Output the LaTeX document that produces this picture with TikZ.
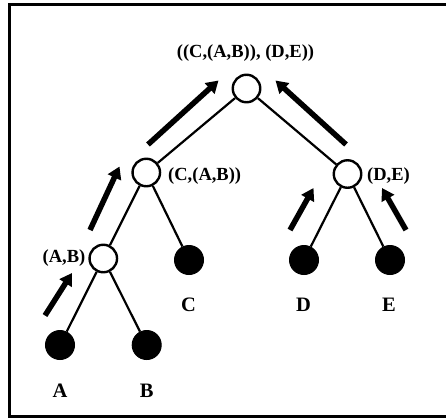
\documentclass[tikz,border=0pt]{standalone}
\usepackage{fontspec}
\setmainfont{Liberation Serif}
\usetikzlibrary{arrows.meta}
\begin{document}
\begin{tikzpicture}[x=1pt,y=-1pt,
  opennode/.style={circle,draw,fill=white,line width=2.4pt,minimum size=27.5pt,inner sep=0pt},
  leafnode/.style={circle,draw,fill=black,line width=1pt,minimum size=29pt,inner sep=0pt},
  edge/.style={line width=2.2pt},
  flow/.style={line width=5.5pt,-{Triangle[length=12pt,width=14pt]}},
  pairlabel/.style={inner sep=0pt,font=\fontsize{18.5}{20}\selectfont\bfseries},
  leaflabel/.style={inner sep=0pt,font=\fontsize{20.5}{22}\selectfont\bfseries}]
  \useasboundingbox (0,0) rectangle (446,418);
  \clip (0,0) rectangle (446,418);
  % frame (its right side lies past the page edge)
  \draw[line width=3pt] (460,4.5) -- (9,4.5) -- (9,416.5) -- (460,416.5);

  % tree nodes
  \node[opennode] (root) at (246.5,88.5) {};
  \node[opennode] (cab) at (146.3,172.5) {};
  \node[opennode] (de) at (347.5,174) {};
  \node[opennode] (ab) at (103.3,258.5) {};
  \node[leafnode] (c) at (189,260) {};
  \node[leafnode] (d) at (304,260) {};
  \node[leafnode] (e) at (390,260) {};
  \node[leafnode] (a) at (60,345) {};
  \node[leafnode] (b) at (146.7,345) {};

  % tree edges
  \draw[edge] (root) -- (cab);
  \draw[edge] (root) -- (de);
  \draw[edge] (cab) -- (ab);
  \draw[edge] (cab) -- (c);
  \draw[edge] (de) -- (d);
  \draw[edge] (de) -- (e);
  \draw[edge] (ab) -- (a);
  \draw[edge] (ab) -- (b);

  % labels
  \node[pairlabel] (lroot) at (245.5,53.5) {((C,(A,B)), (D,E))};
  \node[pairlabel,anchor=west] (lcab) at (168,176.5) {(C,(A,B))};
  \node[pairlabel,anchor=west] (lde) at (367,176.5) {(D,E)};
  \node[pairlabel,anchor=east] (lab) at (85.5,258.5) {(A,B)};
  \node[leaflabel] (lc) at (188.5,305) {C};
  \node[leaflabel] (ld) at (303.5,304.5) {D};
  \node[leaflabel] (le) at (389,304.5) {E};
  \node[leaflabel] (la) at (60,390.5) {A};
  \node[leaflabel] (lb) at (146.7,390.5) {B};

  % flow arrows running up the tree
  \coordinate (f1s) at (148,144.5); \coordinate (f1t) at (218.5,80.5);
  \coordinate (f2s) at (346,144.5); \coordinate (f2t) at (275.5,80.5);
  \coordinate (f3s) at (90,230);    \coordinate (f3t) at (119.5,166.5);
  \coordinate (f4s) at (45,315.5);  \coordinate (f4t) at (72,273);
  \coordinate (f5s) at (290,230);   \coordinate (f5t) at (313.5,188);
  \coordinate (f6s) at (406,230);   \coordinate (f6t) at (382,188);
  \draw[flow] (f1s) -- (f1t);
  \draw[flow] (f2s) -- (f2t);
  \draw[flow] (f3s) -- (f3t);
  \draw[flow] (f4s) -- (f4t);
  \draw[flow] (f5s) -- (f5t);
  \draw[flow] (f6s) -- (f6t);
\end{tikzpicture}
\end{document}
